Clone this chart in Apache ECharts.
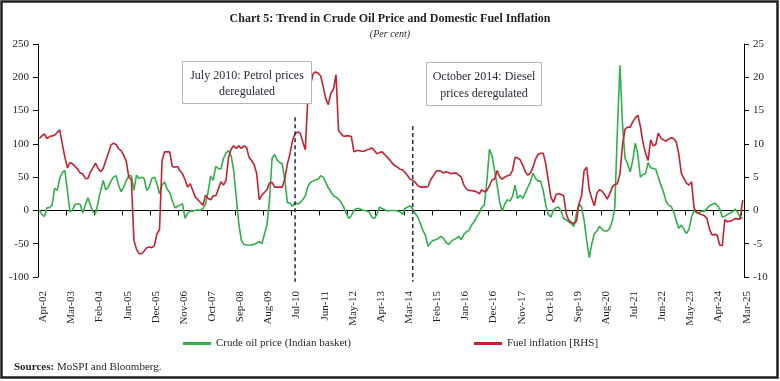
<!DOCTYPE html>
<html>
<head>
<meta charset="utf-8">
<script src="https://cdn.jsdelivr.net/npm/echarts@6/dist/echarts.min.js"></script>
<style>
html,body{margin:0;padding:0;background:#fff;}
#chart{width:780px;height:381px;}
</style>
</head>
<body>
<div id="chart"></div>
<script>
// ---- Data ----
const monthNames = ['Jan','Feb','Mar','Apr','May','Jun','Jul','Aug','Sep','Oct','Nov','Dec'];
const startYear = 2002, startMonth = 3, monthCount = 276; // Apr-02 .. Mar-25
const categories = [];
for (let k = 0; k < monthCount; k++) {
  const m = (startMonth + k) % 12;
  const y = startYear + Math.floor((startMonth + k) / 12);
  categories.push(monthNames[m] + '-' + String(y % 100).padStart(2, '0'));
}

const crudeOilPrice = [
  1, -6, -9, 4, 4, 8, 33, 30, 48, 57,
  60, 30, -2, 1, 9, 10, 9, -4, 8, 19,
  8, -2, -5, 12, 30, 45, 31, 35, 44, 50,
  52, 38, 28, 35, 45, 52, 52, 30, 53, 48,
  50, 48, 30, 35, 48, 50, 40, 25, 38, 43,
  32, 27, 15, 4, 6, 8, 10, -12, -4, -1,
  -1, 0, 1, 0, 3, 10, 28, 52, 45, 66,
  63, 62, 78, 86, 90, 82, 60, 20, -20, -45,
  -51, -52, -52, -52, -51, -49, -47, -50, -36, -22,
  15, 78, 84, 76, 72, 70, 45, 12, 11, 6,
  12, 9, 12, 16, 22, 36, 42, 44, 46, 47,
  52, 50, 42, 34, 28, 22, 20, 17, 12, 5,
  -4, -12, -8, 0, 3, 3, 1, 0, -1, -2,
  -10, -12, -6, 5, 3, 1, -1, 0, 0, 0,
  -1, -2, -6, 3, 5, 7, 2, -5, -10, -20,
  -30, -38, -54, -48, -45, -44, -42, -39, -42, -48,
  -51, -47, -44, -42, -39, -44, -36, -32, -30, -22,
  -17, -10, -4, 5, 8, 45, 92, 82, 60, 38,
  12, -1, 10, 16, 14, 21, 38, 18, 23, 18,
  26, 35, 43, 56, 48, 44, 44, 30, 8, -6,
  -10, 0, 4, 5, -1, -12, -14, -17, -20, -24,
  -5, 10, 5, -15, -45, -71, -50, -35, -31, -24,
  -28, -31, -31, -27, -16, 5, 120, 218, 130, 78,
  70, 58, 75, 101, 84, 50, 54, 55, 72, 64,
  63, 62, 50, 38, 28, 14, 8, 6, -2, -15,
  -27, -22, -28, -35, -28, -10, 0, -4, -3, -1,
  -1, 3, 7, 9, 11, 8, 2, -10, -9, -6,
  -4, -2, 2, -3, -10, -12
];

const fuelInflation = [
  10.8, 11.2, 11.5, 10.8, 11.1, 11.2, 11.3, 11.7, 12.1, 10.0,
  8.0, 6.4, 7.2, 7.0, 6.6, 6.2, 5.6, 5.5, 4.8, 4.8,
  5.8, 6.4, 7.1, 6.3, 5.8, 6.3, 7.5, 8.6, 9.8, 10.1,
  9.9, 9.3, 9.0, 8.3, 7.4, 5.0, 4.6, -4.5, -5.8, -6.5,
  -6.5, -6.1, -5.6, -5.5, -5.6, -5.3, -3.5, -2.9, 7.5, 8.8,
  8.8, 8.8, 6.6, 6.5, 6.6, 6.0, 5.5, 4.6, 3.5, 4.0,
  3.0, 2.0, 1.6, 1.2, 0.8, 2.3, 1.8, 1.6, 2.2, 2.2,
  3.2, 4.3, 3.8, 4.5, 8.0, 9.2, 9.7, 9.3, 9.7, 9.3,
  9.7, 9.5, 8.0, 7.5, 6.9, 5.5, 1.6, 2.3, 2.7, 3.1,
  4.1, 4.2, 3.5, 3.5, 3.5, 3.5, 4.8, 7.0, 8.5, 10.5,
  11.5, 11.8, 11.6, 10.3, 9.1, 17.0, 18.8, 20.5, 20.8, 20.6,
  20.2, 18.6, 16.8, 15.9, 17.6, 18.2, 20.4, 12.0, 11.5, 11.1,
  11.2, 11.2, 11.1, 8.8, 9.0, 9.0, 8.9, 8.9, 9.1, 9.2,
  9.4, 9.0, 8.5, 8.7, 8.8, 8.4, 8.0, 7.6, 7.1, 6.7,
  6.5, 6.2, 6.1, 5.7, 5.2, 4.7, 4.5, 4.2, 3.7, 3.5,
  3.5, 3.5, 3.6, 4.6, 5.2, 5.8, 6.0, 5.9, 5.6, 5.8,
  5.7, 5.5, 5.6, 5.6, 5.3, 5.0, 3.8, 3.2, 3.0, 3.0,
  2.9, 2.8, 2.5, 3.1, 2.8, 3.0, 3.7, 4.6, 4.7, 6.0,
  5.0, 4.7, 5.0, 5.2, 5.3, 6.0, 8.0, 7.9, 7.6, 6.8,
  5.8, 5.3, 5.6, 6.5, 7.7, 8.4, 8.6, 8.6, 7.0, 4.5,
  2.0, 1.2, 2.4, 2.5, 2.4, 2.2, -0.5, -1.5, -1.8, -2.0,
  -1.6, 1.0, 2.2, 6.0, 6.5, 3.1, 1.8, 0.7, 2.6, 3.1,
  2.9, 2.4, 1.7, 2.5, 3.5, 3.9, 4.0, 5.5, 9.8, 12.2,
  12.5, 12.5, 13.3, 13.9, 14.3, 12.6, 10.2, 8.6, 7.5, 10.6,
  9.7, 9.9, 11.6, 10.9, 10.6, 10.4, 10.7, 10.9, 10.8, 10.3,
  8.5, 5.6, 4.8, 4.1, 3.8, 4.3, 0.3, -0.2, -0.5, -0.6,
  -0.8, -1.2, -2.8, -3.7, -3.6, -3.7, -5.2, -5.3, -1.4, -1.7,
  -1.6, -1.5, -1.2, -1.3, -1.3, 1.6
];

const leftTicks = { min: -100, max: 250, interval: 50 };
const rightTicks = { min: -10, max: 25, interval: 5 };
const seriesNames = ['Crude oil price (Indian basket)', 'Fuel inflation [RHS]'];
const events = [
  { month: 'Aug-10', top: 140, bottom: -107 },
  { month: 'Jun-14', top: 127, bottom: -107 }
];

// ---- Chart ----
const FONT = '"Liberation Serif", "DejaVu Serif", serif';
const TXT = '#231f20';
const chart = echarts.init(document.getElementById('chart'), null, { renderer: 'canvas' });

const baseGraphic = [
  { id: 'frame', type: 'rect', shape: { x: 1.5, y: 1.5, width: 776, height: 376 }, style: { fill: 'none', stroke: '#231f20', lineWidth: 2.5 }, silent: true },
  { id: 'box1', type: 'rect', shape: { x: 182.5, y: 61.5, width: 129, height: 42 }, style: { fill: '#fff', stroke: '#b5b5b5', lineWidth: 1 }, z: 10 },
  { id: 'txt1', type: 'text', x: 247, y: 84, z: 11, style: { text: 'July 2010: Petrol prices\nderegulated', align: 'center', verticalAlign: 'middle', lineHeight: 16, fontFamily: FONT, fontSize: 12, fill: '#2a2a3a' } },
  { id: 'box2', type: 'rect', shape: { x: 426.5, y: 62.5, width: 115, height: 43 }, style: { fill: '#fff', stroke: '#b5b5b5', lineWidth: 1 }, z: 10 },
  { id: 'txt2', type: 'text', x: 484, y: 85, z: 11, style: { text: 'October 2014: Diesel\nprices deregulated', align: 'center', verticalAlign: 'middle', lineHeight: 17, fontFamily: FONT, fontSize: 12, fill: '#2a2a3a' } },
  { id: 'src', type: 'text', x: 14, y: 367, style: { text: '{b|Sources:} MoSPI and Bloomberg.', verticalAlign: 'middle', fontFamily: FONT, fontSize: 11, fill: TXT, rich: { b: { fontWeight: 'bold', fontFamily: FONT, fontSize: 11, fill: TXT } } } }
];

const option = {
  backgroundColor: '#fff',
  animation: false,
  textStyle: { fontFamily: FONT },
  title: {
    left: 'center', top: 8, itemGap: 4,
    text: 'Chart 5: Trend in Crude Oil Price and Domestic Fuel Inflation',
    subtext: '(Per cent)',
    textStyle: { fontFamily: FONT, fontSize: 12, fontWeight: 'bold', color: TXT },
    subtextStyle: { fontFamily: FONT, fontSize: 10, fontStyle: 'italic', color: TXT }
  },
  legend: [
    { data: [seriesNames[0]], left: 183, top: 338, padding: 0, itemWidth: 28, itemHeight: 3, icon: 'rect',
      textStyle: { fontFamily: FONT, fontSize: 11, color: TXT } },
    { data: [seriesNames[1]], left: 474, top: 338, padding: 0, itemWidth: 28, itemHeight: 3, icon: 'rect',
      textStyle: { fontFamily: FONT, fontSize: 11, color: TXT } }
  ],
  grid: [
    { left: 38, right: 36, top: 44, bottom: 104, containLabel: false },
    { left: 42, right: 32, top: 44, bottom: 104, containLabel: false }
  ],
  xAxis: [
    {
      gridIndex: 0, type: 'category', data: categories, position: 'top', boundaryGap: true,
      axisLine: { show: true, onZero: true, onZeroAxisIndex: 0, lineStyle: { color: '#000', width: 1 } },
      axisTick: { show: true, interval: 10, inside: true, length: 5, lineStyle: { color: '#000' } },
      axisLabel: { show: false }
    },
    {
      gridIndex: 1, type: 'category', data: categories, position: 'bottom', boundaryGap: true,
      axisLine: { show: false, onZero: false },
      axisTick: { show: false },
      axisLabel: { interval: 10, rotate: 90, margin: 14, fontSize: 11, fontFamily: FONT, color: TXT }
    }
  ],
  yAxis: [
    {
      gridIndex: 0, type: 'value', position: 'left', min: leftTicks.min, max: leftTicks.max, interval: leftTicks.interval,
      splitLine: { show: false },
      axisLine: { show: true, lineStyle: { color: '#000' } },
      axisTick: { show: true, length: 5, lineStyle: { color: '#000' } },
      axisLabel: { margin: 9, fontSize: 11, fontFamily: FONT, color: TXT }
    },
    {
      gridIndex: 0, type: 'value', position: 'right', min: rightTicks.min, max: rightTicks.max, interval: rightTicks.interval,
      splitLine: { show: false },
      axisLine: { show: true, lineStyle: { color: '#000' } },
      axisTick: { show: true, length: 5, lineStyle: { color: '#000' } },
      axisLabel: { margin: 9, fontSize: 11, fontFamily: FONT, color: TXT }
    },
    {
      gridIndex: 1, type: 'value', show: false, min: leftTicks.min, max: leftTicks.max
    }
  ],
  series: [
    {
      name: seriesNames[0], type: 'line', xAxisIndex: 0, yAxisIndex: 0,
      data: crudeOilPrice, showSymbol: false, symbol: 'none',
      lineStyle: { color: '#2fb04a', width: 1.6 }, itemStyle: { color: '#2fb04a' }
    },
    {
      name: seriesNames[1], type: 'line', xAxisIndex: 0, yAxisIndex: 1,
      data: fuelInflation, showSymbol: false, symbol: 'none',
      lineStyle: { color: '#c8202f', width: 1.6 }, itemStyle: { color: '#c8202f' }
    }
  ],
  graphic: baseGraphic
};
chart.setOption(option);

// Event marker lines positioned through the chart's own scales
const eventGraphics = events.map(function (ev, k) {
  const x = chart.convertToPixel({ xAxisIndex: 0 }, ev.month);
  const y1 = chart.convertToPixel({ yAxisIndex: 0 }, ev.top);
  const y2 = chart.convertToPixel({ yAxisIndex: 0 }, ev.bottom);
  return {
    id: 'ev' + k, type: 'line', z: 5, silent: true,
    shape: { x1: x, y1: y1, x2: x, y2: y2 },
    style: { stroke: '#2b3453', lineWidth: 1.6, lineDash: [4, 3] }
  };
});
chart.setOption({ graphic: baseGraphic.concat(eventGraphics) });
</script>
</body>
</html>
